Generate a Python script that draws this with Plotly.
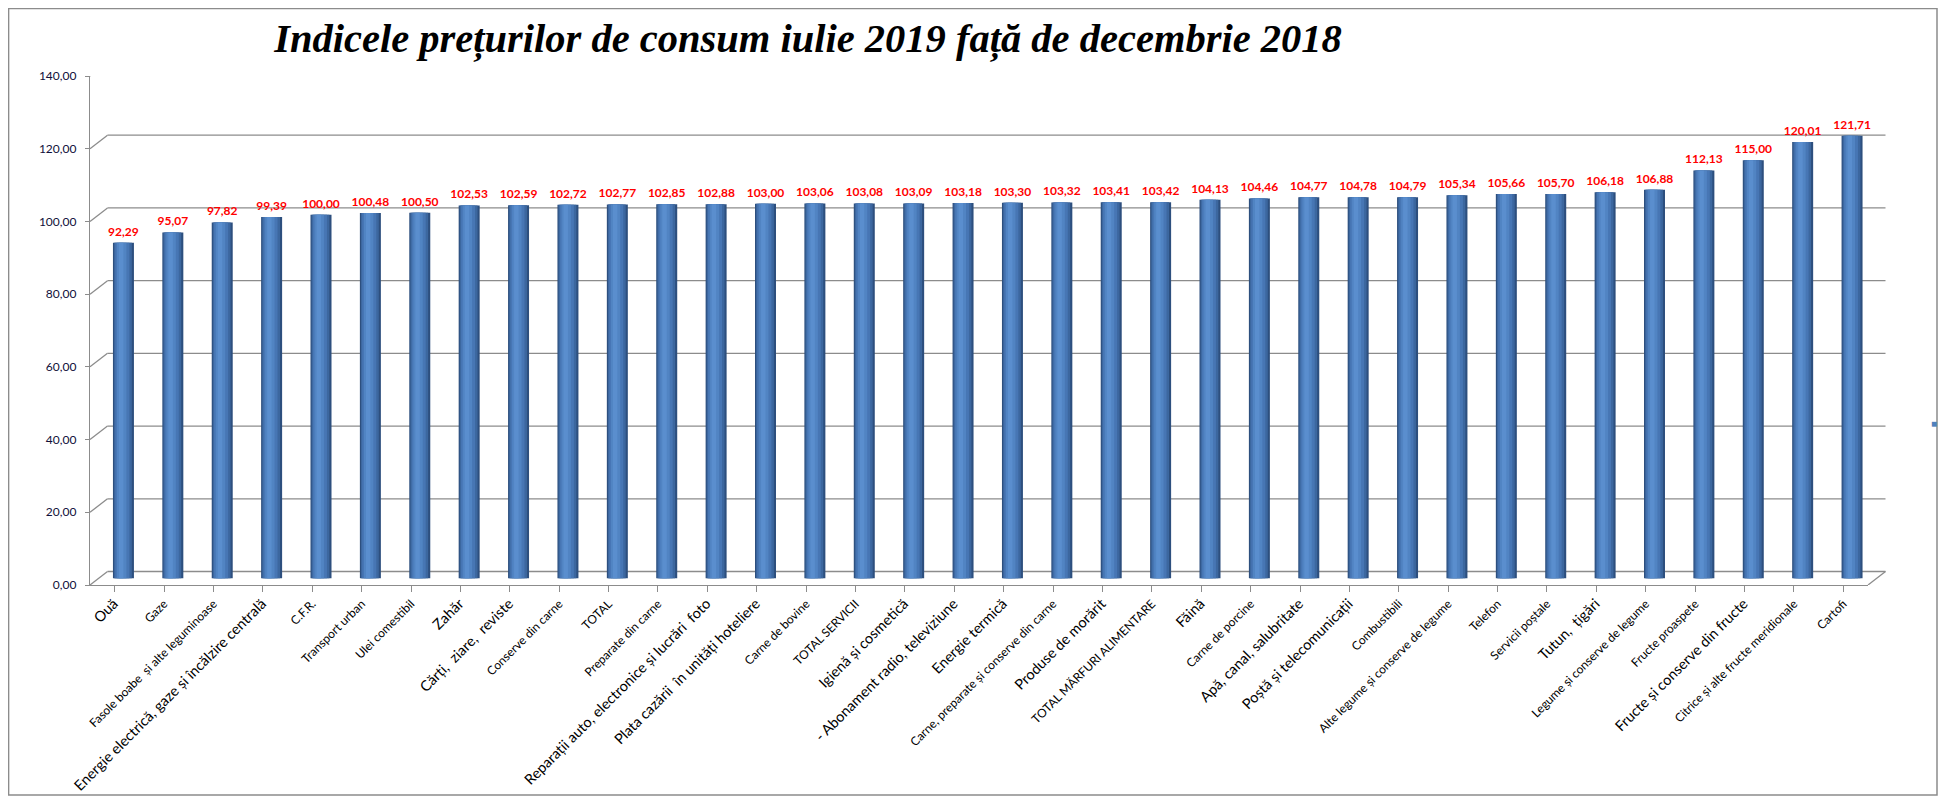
import plotly.graph_objects as go

categories = [
    "Ouă", "Gaze", "Fasole boabe  și alte leguminoase",
    "Energie electrică, gaze și încălzire centrală", "C.F.R.", "Transport urban",
    "Ulei comestibil", "Zahăr", "Cărți,  ziare,  reviste", "Conserve din carne",
    "TOTAL", "Preparate din carne", "Reparații auto, electronice și lucrări  foto",
    "Plata cazării  în unități hoteliere", "Carne de bovine", "TOTAL SERVICII",
    "Igienă și cosmetică", "- Abonament radio, televiziune", "Energie termică",
    "Carne, preparate și conserve din carne", "Produse de morărit",
    "TOTAL MĂRFURI ALIMENTARE", "Făină", "Carne de porcine",
    "Apă, canal, salubritate", "Poștă și telecomunicații", "Combustibili",
    "Alte legume și conserve de legume", "Telefon", "Servicii poștale",
    "Tutun,  țigări", "Legume și conserve de legume", "Fructe proaspete",
    "Fructe și conserve din fructe", "Citrice și alte fructe meridionale", "Cartofi",
]
values = [
    92.29, 95.07, 97.82, 99.39, 100.00, 100.48, 100.50, 102.53, 102.59, 102.72,
    102.77, 102.85, 102.88, 103.00, 103.06, 103.08, 103.09, 103.18, 103.30, 103.32,
    103.41, 103.42, 104.13, 104.46, 104.77, 104.78, 104.79, 105.34, 105.66, 105.70,
    106.18, 106.88, 112.13, 115.00, 120.01, 121.71,
]
y_ticks = [0, 20, 40, 60, 80, 100, 120, 140]
title_text = "Indicele prețurilor de consum iulie 2019 față de decembrie 2018"

# styling: labels drawn in a larger font in the reference
large_label_idx = {0, 3, 7, 8, 12, 13, 16, 17, 18, 20, 22, 24, 25, 30, 33}

W, H = 1947, 805
OX, OY = 8, 8                      # page body margin compensation

def px(x):
    return (x - OX) / W

def py(y):
    return 1 - (y - OY) / H

ax_x0, ax_x1 = 90, 1868            # front axis (page px)
ax_y0, ax_y140 = 585, 76
ymax = 140
n = len(categories)
ppu = (ax_y0 - ax_y140) / ymax     # px per y unit
ppc = (ax_x1 - ax_x0) / n          # px per category
back_dx, back_dy = 17.5, 13.5
d_back_y = back_dy / ppu
mid_dx_c = (back_dx / 2) / ppc
mid_dy_u = (back_dy / 2) / ppu

xs = list(range(n))
ticktext = []
for i, c in enumerate(categories):
    fs = 14.5 if i in large_label_idx else 12
    ticktext.append(f"<span style='font-size:{fs}px'>{c}</span>")

fig = go.Figure()

layers = [
    (-0.2125, 0.2125, "#2D4F7E"),
    (-0.19, 0.17, "#3C679F"),
    (-0.165, 0.12, "#4776B4"),
    (-0.13, 0.06, "#5184C3"),
    (-0.09, 0.0, "#5A8ECE"),
]
for a, b, col in layers:
    fig.add_trace(go.Bar(
        x=xs, y=values, width=b - a, offset=a,
        marker=dict(color=col, line=dict(width=0)),
        xaxis="x2", yaxis="y2",
        showlegend=False, hoverinfo="skip",
    ))

fig.add_trace(go.Scatter(
    x=xs, y=values, mode="markers+text",
    marker=dict(size=5, opacity=0),
    text=[f"{v:.2f}".replace(".", ",") for v in values],
    textposition="top center",
    textfont=dict(family="Lato", size=12, color="#FF0000", weight="bold"),
    xaxis="x2", yaxis="y2",
    showlegend=False, hoverinfo="skip", cliponaxis=False,
))

# 3D walls: back gridlines and diagonal connectors
shapes = []
grid_col = "#8C8C8C"
for t in y_ticks:
    shapes.append(dict(type="line", xref="paper", yref="y",
                       x0=px(ax_x0 + back_dx), x1=px(ax_x1 + back_dx),
                       y0=t + d_back_y, y1=t + d_back_y,
                       line=dict(color=grid_col, width=1.3), layer="below"))
    shapes.append(dict(type="line", xref="paper", yref="y",
                       x0=px(ax_x0), x1=px(ax_x0 + back_dx), y0=t, y1=t + d_back_y,
                       line=dict(color=grid_col, width=1.3), layer="below"))
shapes.append(dict(type="line", xref="paper", yref="y",
                   x0=px(ax_x1), x1=px(ax_x1 + back_dx), y0=0, y1=d_back_y,
                   line=dict(color=grid_col, width=1.3), layer="below"))
# outer chart border
shapes.append(dict(type="rect", xref="paper", yref="paper",
                   x0=0.6 / W, x1=px(1937), y0=py(795), y1=1 - 0.6 / H,
                   line=dict(color="#8C8C8C", width=1.5)))

fig.update_layout(
    width=W, height=H,
    margin=dict(l=0, r=0, t=0, b=0, autoexpand=False),
    paper_bgcolor="white", plot_bgcolor="rgba(0,0,0,0)",
    barmode="overlay",
    separators=",.",
    shapes=shapes,
    showlegend=False,
    annotations=[
        dict(text="■", x=px(1938.5), y=py(423), xref="paper", yref="paper",
             showarrow=False, font=dict(size=10, color="#4F81BD")),
    ],
    title=dict(text=title_text, x=px(808), xanchor="center",
               y=py(38), yanchor="middle",
               font=dict(family="Liberation Serif", size=40.5, color="black",
                         weight="bold", style="italic")),
    xaxis=dict(domain=[px(ax_x0), px(ax_x1)], range=[-0.5, n - 0.5],
               tickmode="array", tickvals=xs, ticktext=ticktext, tickangle=-45,
               tickfont=dict(family="Lato", color="black"), automargin=False,
               showgrid=False, showline=True, linecolor=grid_col, linewidth=1.3,
               ticks="outside", tickson="boundaries", ticklen=6, tickcolor=grid_col,
               zeroline=False, fixedrange=True),
    yaxis=dict(domain=[py(ax_y0), py(ax_y140)], range=[0, ymax],
               tickvals=y_ticks, tickformat=".2f", automargin=False,
               tickfont=dict(family="Lato", size=12, color="#10103A"),
               ticklabelstandoff=6,
               showgrid=False, showline=True, linecolor=grid_col, linewidth=1.3,
               ticks="outside", ticklen=4, tickcolor=grid_col, zeroline=False),
    xaxis2=dict(overlaying="x", anchor="y", visible=False,
                range=[-0.5 - mid_dx_c, n - 0.5 - mid_dx_c]),
    yaxis2=dict(overlaying="y", anchor="x", visible=False,
                range=[-mid_dy_u, ymax - mid_dy_u]),
)

fig.write_html("out.html")
